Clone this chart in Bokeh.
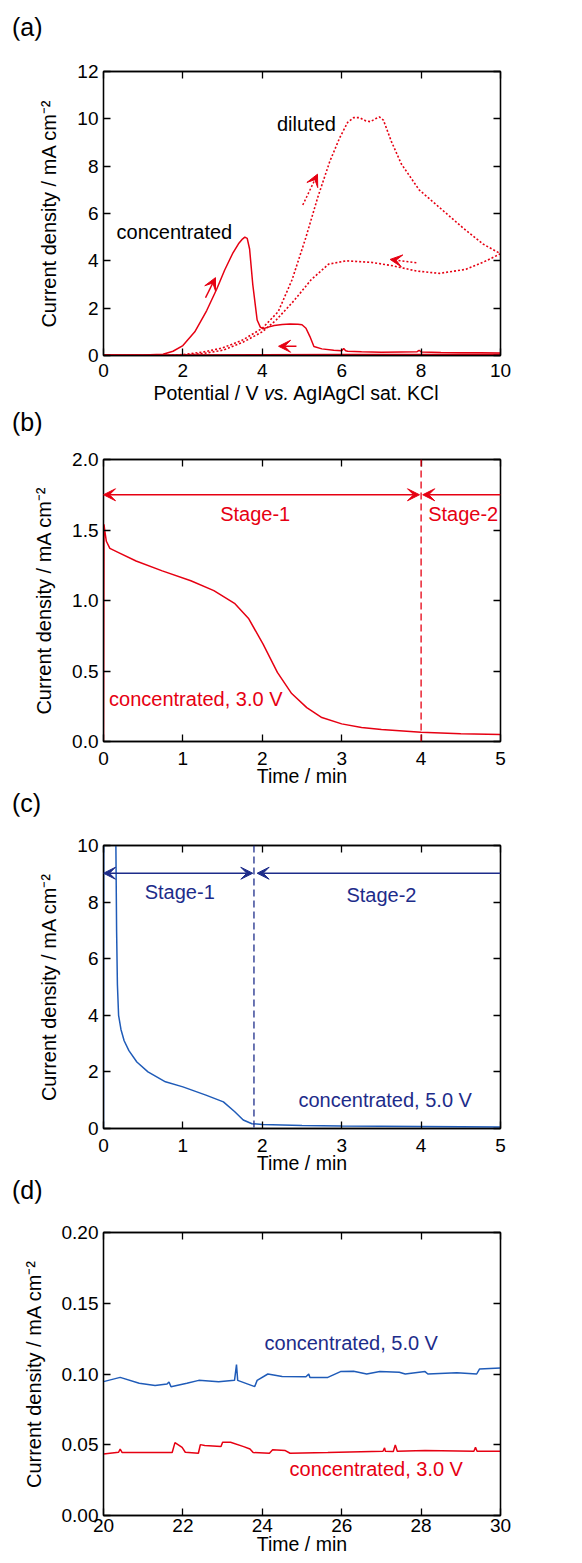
import numpy as np
from bokeh.plotting import figure
from bokeh.models import (Range1d, LinearAxis, FixedTicker, NumeralTickFormatter,
                          Label, Arrow, VeeHead, Span, Div)
from bokeh.layouts import column
from bokeh.embed import file_html
from bokeh.resources import INLINE

RED = "#e60012"
BLUE = "#1f5bb8"
NAVY = "#1d2c8a"
FONT = "Liberation Sans"

# ---------------- data (a) ----------------
conc_v = [0, 1.0, 1.5, 1.75, 2.0, 2.3, 2.6, 2.85, 3.05, 3.25, 3.4, 3.5, 3.56, 3.62, 3.68,
          3.76, 3.87, 3.95, 4.02, 4.15, 4.3, 4.5, 4.7, 4.9, 5.0, 5.1, 5.2, 5.3, 5.5, 5.8,
          6.0, 6.05, 6.1, 6.15, 6.5, 7.0, 7.5, 7.9, 7.95, 8.0, 8.5, 9.0, 9.5, 10.0]
conc_j = [0.02, 0.02, 0.05, 0.18, 0.42, 1.0, 1.9, 2.8, 3.6, 4.3, 4.72, 4.92, 5.0, 4.95, 4.5,
          3.0, 1.5, 1.2, 1.13, 1.2, 1.27, 1.31, 1.33, 1.32, 1.3, 1.15, 0.8, 0.38, 0.28, 0.22,
          0.2, 0.3, 0.2, 0.18, 0.16, 0.14, 0.15, 0.16, 0.22, 0.15, 0.13, 0.12, 0.12, 0.11]
conc_rev_v = [10, 8, 6, 4, 2, 0]
conc_rev_j = [0.05, 0.04, 0.04, 0.03, 0.02, 0.02]

dil_fwd_v = [0, 1.6, 2.0, 2.5, 3.0, 3.5, 4.0, 4.4, 4.75, 5.1, 5.4, 5.7, 5.95, 6.15, 6.3,
             6.45, 6.6, 6.72, 6.85, 6.95, 7.05, 7.25, 7.5, 7.95, 8.5, 9.05, 9.57, 10.0]
dil_fwd_j = [0.0, 0.0, 0.04, 0.14, 0.32, 0.65, 1.15, 1.85, 3.2, 5.0, 6.7, 8.2, 9.2, 9.85, 10.05,
             10.05, 9.92, 9.88, 10.0, 10.08, 9.95, 9.05, 8.1, 7.0, 6.2, 5.4, 4.7, 4.3]
dil_rev_v = [10.0, 9.64, 9.13, 8.46, 7.88, 7.29, 6.77, 6.11, 5.67, 5.23, 4.79, 4.35, 4.0,
             3.5, 3.0, 2.5, 2.0, 1.5]
dil_rev_j = [4.3, 4.0, 3.64, 3.47, 3.57, 3.79, 3.93, 4.0, 3.86, 3.2, 2.3, 1.5, 1.0,
             0.55, 0.22, 0.08, 0.02, 0.0]

# ---------------- data (b) ----------------
t_b = [0, 0.006, 0.015, 0.036, 0.08, 0.19, 0.41, 0.74, 1.1, 1.39, 1.65, 1.83, 2.01, 2.19,
       2.37, 2.56, 2.75, 3.0, 3.25, 3.5, 4.0, 4.5, 5.0]
j_b = [0, 1.54, 1.5, 1.42, 1.37, 1.34, 1.28, 1.21, 1.14, 1.07, 0.98, 0.87, 0.69, 0.49,
       0.34, 0.24, 0.17, 0.125, 0.1, 0.085, 0.065, 0.055, 0.05]

# ---------------- data (c) ----------------
t_c = [0, 0.004, 0.15, 0.165, 0.175, 0.19, 0.22, 0.26, 0.32, 0.42, 0.56, 0.78, 1.0, 1.29,
       1.51, 1.65, 1.76, 1.87, 2.0, 2.5, 3.0, 4.0, 5.0]
j_c = [0, 12, 12, 7.0, 5.1, 4.0, 3.5, 3.1, 2.75, 2.35, 2.0, 1.65, 1.47, 1.18,
       0.94, 0.6, 0.3, 0.17, 0.14, 0.11, 0.09, 0.07, 0.05]

# ---------------- data (d) ----------------
t_d5 = [20, 20.42, 20.9, 21.3, 21.6, 21.65, 21.7, 22.1, 22.4, 22.9, 23.3, 23.35, 23.38,
        23.81, 23.87, 24.14, 24.5, 25.1, 25.17, 25.2, 25.65, 25.97, 26.3, 26.63, 26.96,
        27.45, 27.6, 28.1, 28.17, 28.9, 29.4, 29.47, 30]
j_d5 = [0.0946, 0.0976, 0.0934, 0.0918, 0.0929, 0.0944, 0.091, 0.0934, 0.0955, 0.0945,
        0.0955, 0.1066, 0.0955, 0.0911, 0.0955, 0.1, 0.0983, 0.0981, 0.1, 0.0976, 0.0976,
        0.1017, 0.1019, 0.1, 0.1017, 0.1012, 0.1, 0.1017, 0.1, 0.1009, 0.1, 0.1035, 0.1042]
t_d3 = [20, 20.38, 20.42, 20.47, 21.73, 21.8, 21.98, 22.06, 22.39, 22.44, 22.55, 22.96,
        23.0, 23.2, 23.53, 23.69, 23.77, 24.18, 24.26, 24.58, 24.7, 25.65, 27.04, 27.08,
        27.1, 27.3, 27.35, 27.4, 28.1, 29.33, 29.37, 29.41, 30]
j_d3 = [0.0435, 0.0447, 0.047, 0.0445, 0.0445, 0.0515, 0.0482, 0.0447, 0.044, 0.0501,
        0.0494, 0.0487, 0.0518, 0.0518, 0.0487, 0.047, 0.0445, 0.044, 0.0464, 0.0459,
        0.044, 0.0445, 0.0454, 0.0478, 0.0454, 0.0452, 0.0499, 0.0454, 0.0459, 0.0454,
        0.0482, 0.0454, 0.0454]

YLABEL = "Current density / mA cm\u207b\u00b2"


def style_axis(ax):
    ax.major_tick_in = 7
    ax.major_tick_out = 0
    ax.minor_tick_line_color = None
    ax.major_tick_line_color = "black"
    ax.major_tick_line_width = 1.3
    ax.axis_line_color = "black"
    ax.axis_line_width = 1.3
    ax.major_label_text_font = FONT
    ax.major_label_text_font_size = "19px"
    ax.major_label_text_color = "black"
    ax.axis_label_text_font = FONT
    ax.axis_label_text_font_size = "19.5px"
    ax.axis_label_text_font_style = "normal"
    ax.axis_label_text_color = "black"


def make_fig(height, left, top, bottom, xr, yr, xticks, yticks, xlabel, xls, xals,
             yfmt=None):
    p = figure(width=574, height=height, x_range=Range1d(*xr), y_range=Range1d(*yr),
               output_backend="svg", toolbar_location=None,
               min_border_left=left, min_border_right=574 - left - 408,
               min_border_top=top, min_border_bottom=bottom)
    p.grid.visible = False
    p.outline_line_color = "black"
    p.outline_line_width = 1.3
    bx = p.below[0]
    ly = p.left[0]
    rx = LinearAxis()
    ax_ = LinearAxis()
    p.add_layout(rx, "right")
    p.add_layout(ax_, "above")
    for a in (bx, ax_):
        style_axis(a)
        a.ticker = FixedTicker(ticks=xticks)
    for a in (ly, rx):
        style_axis(a)
        a.ticker = FixedTicker(ticks=yticks)
        if yfmt:
            a.formatter = NumeralTickFormatter(format=yfmt)
    for a in (rx, ax_):
        a.major_label_text_color = None
        a.major_label_text_font_size = "0px"
        a.major_label_standoff = 0
    bx.major_label_standoff = xls
    bx.axis_label_standoff = xals
    if xlabel:
        bx.axis_label = xlabel
    ly.major_label_standoff = 5
    ly.axis_label_standoff = 14
    ly.axis_label = YLABEL
    ly.axis_label_text_font_size = "20px"
    return p


def panel_label(s, top):
    return Div(text=s, width=60, height=25, margin=(top, 0, 0, 12),
               styles={"font-family": FONT, "font-size": "25px", "line-height": "25px",
                       "color": "black", "white-space": "nowrap"})


def txt(p, x, y, s, color, size="20px", align="left"):
    p.add_layout(Label(x=x, y=y, text=s, text_color=color, text_font=FONT,
                       text_font_size=size, text_align=align, text_baseline="middle"))


def arrow(p, x0, y0, x1, y1, color, dash="solid", both=False, size=12):
    kw = dict(end=VeeHead(size=size, fill_color=color, line_color=color, line_width=1),
              x_start=x0, y_start=y0, x_end=x1, y_end=y1,
              line_color=color, line_width=1.5, line_dash=dash)
    if both:
        kw["start"] = VeeHead(size=size, fill_color=color, line_color=color, line_width=1)
    p.add_layout(Arrow(**kw))


# ---------------- panel (a) ----------------
div_a = panel_label("(a)", 15)
pa = make_fig(345, 92, 31, 30, (0, 10), (0, 12), [0, 2, 4, 6, 8, 10],
              [0, 2, 4, 6, 8, 10, 12], None, 8, 0)
pa.line(conc_rev_v, conc_rev_j, color=RED, line_width=1.5)
pa.line(conc_v, conc_j, color=RED, line_width=1.5)
pa.line(dil_fwd_v, dil_fwd_j, color=RED, line_width=1.6, line_dash="2 2")
pa.line(dil_rev_v, dil_rev_j, color=RED, line_width=1.6, line_dash="2 2")
arrow(pa, 2.57, 2.44, 2.82, 3.29, RED)
arrow(pa, 4.86, 0.39, 4.41, 0.39, RED)
arrow(pa, 5.02, 6.36, 5.39, 7.66, RED, dash="2 2")
arrow(pa, 7.88, 3.92, 7.22, 4.06, RED, dash="2 2")
txt(pa, 0.33, 5.2, "concentrated", "black")
txt(pa, 4.37, 9.77, "diluted", "black")
xlab_a = Div(text="Potential / V <i>vs.</i> AgIAgCl sat. KCl", width=408, height=16,
             margin=(0, 0, 0, 92),
             styles={"font-family": FONT, "font-size": "19.5px", "line-height": "16px",
                     "color": "black", "text-align": "center", "white-space": "nowrap"})

# ---------------- panel (b) ----------------
div_b = panel_label("(b)", 9)
pb = make_fig(356, 100, 24, 50, (0, 5), (0, 2), [0, 1, 2, 3, 4, 5],
              [0, 0.5, 1.0, 1.5, 2.0], "Time / min", 10, -3, yfmt="0.0")
pb.line(t_b, j_b, color=RED, line_width=1.5)
pb.add_layout(Span(location=4, dimension="height", line_color=RED, line_width=1.3,
                   line_dash="7 4"))
arrow(pb, 0.0, 1.75, 3.98, 1.75, RED, both=True)
arrow(pb, 5.0, 1.75, 4.02, 1.75, RED)
txt(pb, 1.91, 1.61, "Stage-1", RED, align="center")
txt(pb, 4.53, 1.61, "Stage-2", RED, align="center")
txt(pb, 0.07, 0.30, "concentrated, 3.0 V", RED)

# ---------------- panel (c) ----------------
div_c = panel_label("(c)", 0)
pc = make_fig(362, 95, 29, 50, (0, 5), (0, 10), [0, 1, 2, 3, 4, 5],
              [0, 2, 4, 6, 8, 10], "Time / min", 10, -3)
pc.line(t_c, j_c, color=BLUE, line_width=1.5)
pc.add_layout(Span(location=1.895, dimension="height", line_color=NAVY, line_width=1.3,
                   line_dash="7 4"))
arrow(pc, 0.0, 9.02, 1.88, 9.02, NAVY, both=True)
arrow(pc, 5.0, 9.02, 1.935, 9.02, NAVY)
txt(pc, 0.96, 8.35, "Stage-1", NAVY, align="center")
txt(pc, 3.5, 8.24, "Stage-2", NAVY, align="center")
txt(pc, 4.64, 1.0, "concentrated, 5.0 V", NAVY, align="right")

# ---------------- panel (d) ----------------
div_d = panel_label("(d)", 0)
pd_ = make_fig(356, 103, 29, 44, (20, 30), (0, 0.2), [20, 22, 24, 26, 28, 30],
               [0, 0.05, 0.10, 0.15, 0.20], "Time / min", 3, -2, yfmt="0.00")
pd_.line(t_d5, j_d5, color=BLUE, line_width=1.5)
pd_.line(t_d3, j_d3, color=RED, line_width=1.5)
txt(pd_, 26.24, 0.1216, "concentrated, 5.0 V", NAVY, align="center")
txt(pd_, 26.87, 0.033, "concentrated, 3.0 V", RED, align="center")

layout = column(div_a, pa, xlab_a, div_b, pb, div_c, pc, div_d, pd_, spacing=0)
open("out.html", "w").write(file_html(layout, INLINE))
